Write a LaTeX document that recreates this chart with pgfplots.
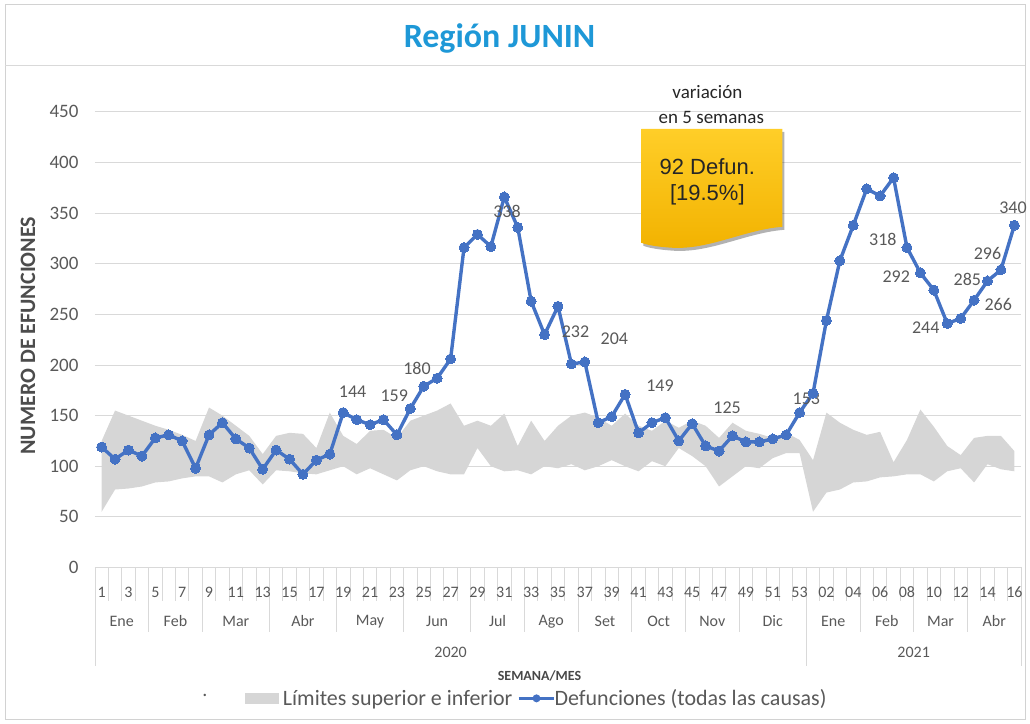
\documentclass[border=0pt]{standalone}
\usepackage{pgfplots}
\pgfplotsset{compat=1.18}
\usepackage{pgfplotstable}
\usepgfplotslibrary{fillbetween}
\usetikzlibrary{shadows}
\usepackage{fontspec}
\setmainfont{Carlito}
\newfontfamily\arialf{Liberation Sans}
\definecolor{serie}{HTML}{4472C4}
\definecolor{band}{HTML}{D6D6D6}
\definecolor{gridc}{HTML}{D9D9D9}
\definecolor{txt}{HTML}{595959}
\definecolor{titleblue}{RGB}{30,152,215}
\definecolor{callTop}{RGB}{255,206,40}
\definecolor{callBot}{RGB}{242,178,0}

\pgfplotstableread{
x y up lo
0 119 125 55
1 107 155 77
2 116 150 78
3 110 145 80
4 128 140 84
5 131 136 85
6 125 131 88
7 98 125 90
8 131 158 90
9 143 150 84
10 127 140 92
11 118 130 96
12 97 112 82
13 116 130 96
14 107 133 95
15 92 132 93
16 106 118 92
17 112 153 96
18 153 130 100
19 146 122 92
20 141 135 98
21 146 136 92
22 131 128 86
23 157 145 96
24 179 150 100
25 187 155 95
26 206 162 92
27 316 140 92
28 329 145 118
29 317 140 100
30 366 152 95
31 336 120 96
32 263 145 92
33 230 125 100
34 258 140 98
35 201 150 102
36 203 153 96
37 143 148 100
38 149 140 106
39 171 152 100
40 133 140 95
41 143 135 105
42 148 145 100
43 125 138 118
44 142 145 110
45 120 140 100
46 115 128 80
47 130 143 90
48 124 135 100
49 124 132 98
50 127 128 108
51 131 133 113
52 153 126 113
53 172 106 55
54 244 153 74
55 303 143 77
56 338 136 84
57 374 131 85
58 367 134 89
59 385 104 90
60 316 126 92
61 291 156 92
62 274 139 85
63 241 120 95
64 246 111 98
65 264 128 84
66 283 130 102
67 294 130 97
68 338 115 95
}\data

\begin{document}
\begin{tikzpicture}
\path (-95pt,-156pt) rectangle (935pt,568pt);
\draw[gray!35, line width=0.8pt] (-90pt,-152pt) rectangle (931pt,564pt);
\draw[gray!30, line width=0.8pt] (-90pt,503pt) -- (931pt,503pt);

\begin{axis}[
  scale only axis, width=927pt, height=456pt,
  xmin=-0.5, xmax=68.5, ymin=0, ymax=450,
  axis line style={draw=none},
  xtick=\empty,
  ytick={0,50,...,450},
  ymajorgrids, grid style={gridc, line width=1pt},
  tick style={draw=none},
  /pgf/number format/assume math mode=true,
  yticklabel style={font=\fontsize{19}{22}\selectfont, text=txt, xshift=-13pt},
  clip=false,
]
\addplot[name path=U, draw=none, forget plot] table[x=x,y=up]{\data};
\addplot[name path=L, draw=none, forget plot] table[x=x,y=lo]{\data};
\addplot[fill=band, draw=none] fill between[of=U and L];
\addplot[serie, line width=3.4pt, mark=*, mark size=5pt,
  mark options={fill=serie, draw=serie, line width=0pt}] table[x=x,y=y]{\data};

\begin{scope}[every node/.style={font=\fontsize{18}{21}\selectfont, text=txt}]
\node at (axis cs:18.7,174) {144};
\node at (axis cs:21.8,170) {159};
\node at (axis cs:23.5,197) {180};
\node at (axis cs:30.2,352) {338};
\node at (axis cs:35.3,233) {232};
\node at (axis cs:38.2,226) {204};
\node at (axis cs:41.6,180) {149};
\node at (axis cs:46.6,158) {125};
\node at (axis cs:52.5,167) {153};
\node at (axis cs:58.2,324) {318};
\node at (axis cs:59.2,287) {292};
\node at (axis cs:61.4,237) {244};
\node at (axis cs:64.5,285) {285};
\node at (axis cs:66.0,310) {296};
\node at (axis cs:66.8,260) {266};
\node at (axis cs:67.9,355) {340};
\end{scope}
\end{axis}

% category separators
\foreach \j in {0,...,69} \draw[gridc, line width=0.8pt] ({\j*13.4348pt},0pt) -- ++(0pt,-34pt);
\foreach \j in {0,4,8,13,18,23,28,32,36,40,44,48,53,57,61,65,69} \draw[gridc, line width=0.8pt] ({\j*13.4348pt},-34pt) -- ++(0pt,-31pt);
\foreach \j in {0,53,69} \draw[gridc, line width=0.8pt] ({\j*13.4348pt},-65pt) -- ++(0pt,-34pt);

\begin{scope}[every node/.style={font=\fontsize{16}{19}\selectfont, text=txt}]
\foreach \k/\t in {0/1,2/3,4/5,6/7,8/9,10/11,12/13,14/15,16/17,18/19,20/21,22/23,24/25,26/27,28/29,30/31,32/33,34/35,36/37,38/39,40/41,42/43,44/45,46/47,48/49,50/51,52/53,54/02,56/04,58/06,60/08,62/10,64/12,66/14,68/16}
  \node at ({(\k+0.5)*13.4348pt},-25pt) {\t};
\foreach \m/\t in {2/Ene,6/Feb,10.5/Mar,15.5/Abr,20.5/May,25.5/Jun,30/Jul,34/Ago,38/Set,42/Oct,46/Nov,50.5/Dic,55/Ene,59/Feb,63/Mar,67/Abr}
  \node at ({\m*13.4348pt},-54pt) {\t};
\foreach \m/\t in {26.5/2020,61/2021}
  \node at ({\m*13.4348pt},-85pt) {\t};
\end{scope}

% axis titles
\node[font=\bfseries\fontsize{14}{16}\selectfont, text=txt!80!black] at (445pt,-109pt) {SEMANA/MES};
\node[rotate=90, font=\bfseries\fontsize{22}{26}\selectfont, text=txt!85!black] at (-67pt,232pt) {NUMERO DE EFUNCIONES};
\node[font=\bfseries\fontsize{34}{40}\selectfont, text=titleblue] at (405pt,530pt) {Región JUNIN};

% legend
\node[font=\fontsize{20}{23}\selectfont, text=txt] at (110pt,-128pt) {.};
\fill[band] (150pt,-137pt) rectangle (184pt,-126pt);
\node[anchor=west, font=\fontsize{22}{25}\selectfont, text=txt, inner sep=0pt] at (188pt,-132pt) {Límites superior e inferior};
\draw[serie, line width=2.8pt] (424pt,-131pt) -- (460pt,-131pt);
\fill[serie] (442pt,-131pt) circle (4pt);
\node[anchor=west, font=\fontsize{22}{25}\selectfont, text=txt, inner sep=0pt] at (460pt,-132pt) {Defunciones (todas las causas)};

% annotation
\node[font=\fontsize{19}{22}\selectfont, text=black!85] at (613pt,476pt) {variación};
\node[font=\fontsize{19}{22}\selectfont, text=black!85] at (617pt,450pt) {en 5 semanas};
\path[top color=callTop, bottom color=callBot,
  drop shadow={shadow xshift=2pt, shadow yshift=-3pt, opacity=0.3, fill=black}]
  (547pt,439pt) -- (688pt,439pt) -- (688pt,341pt)
  .. controls (650pt,338pt) and (615pt,318pt) .. (578pt,320pt)
  .. controls (562pt,321pt) and (552pt,323pt) .. (547pt,325pt) -- cycle;
\node[font=\arialf\fontsize{22}{26}\selectfont, text=black!85] at (613pt,401pt) {92 Defun.};
\node[font=\arialf\fontsize{22}{26}\selectfont, text=black!85] at (613pt,373pt) {[19.5\%]};
\end{tikzpicture}
\end{document}
